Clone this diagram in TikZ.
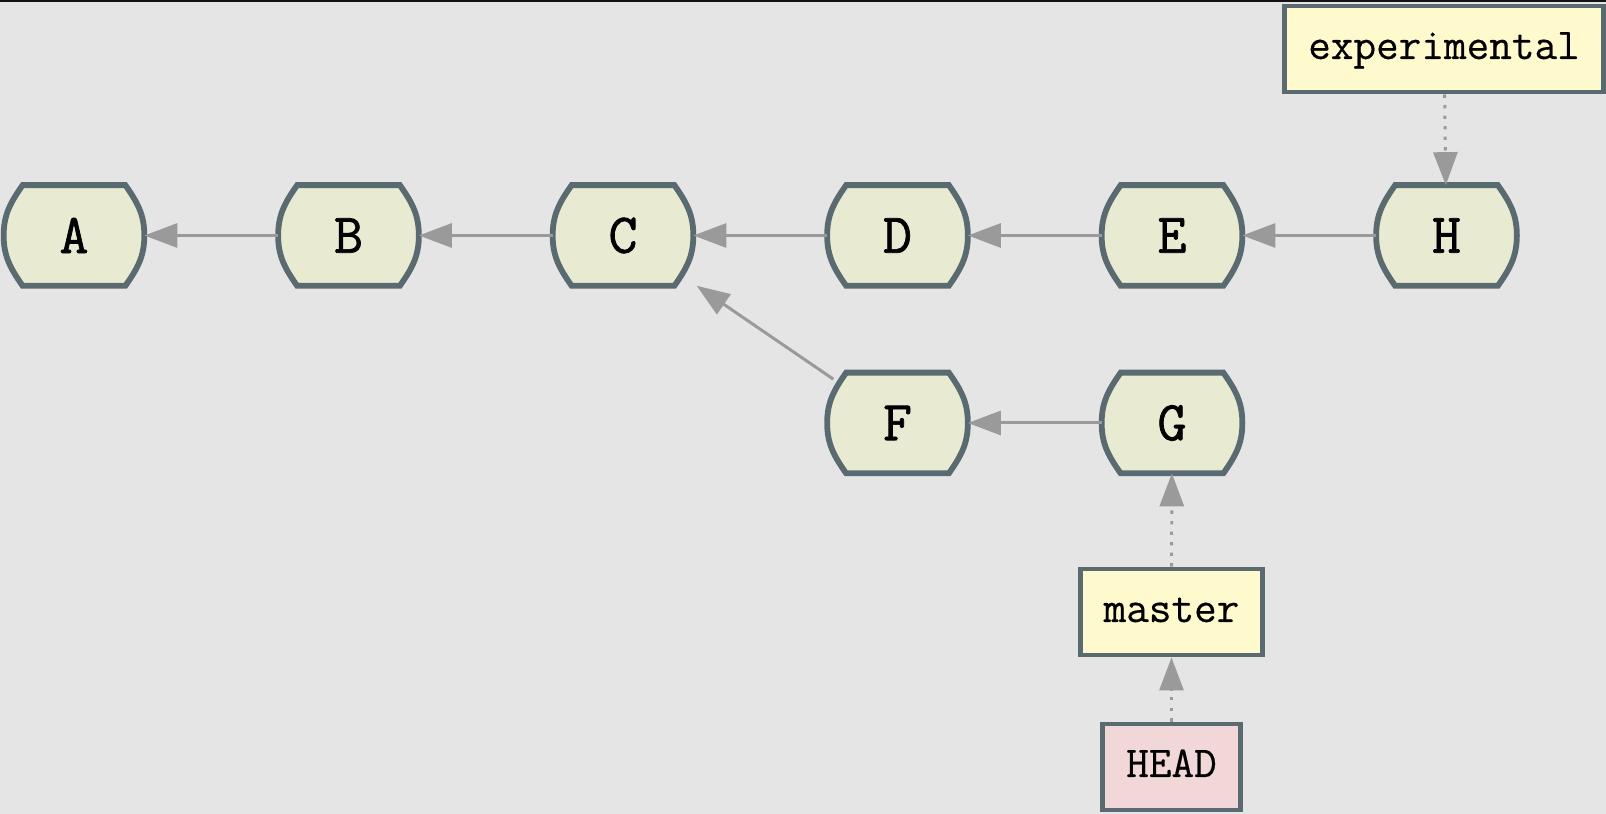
\documentclass[tikz,border=0pt]{standalone}
\usepackage{fontspec}
\newfontfamily\cmtfont[FakeBold=1.2]{Latin Modern Mono}
\newfontfamily\reffont[FakeBold=0.4]{Latin Modern Mono}
\usetikzlibrary{arrows.meta,backgrounds}
\definecolor{bggray}{HTML}{E5E5E5}
\definecolor{edgeclr}{HTML}{596B71}
\definecolor{cmtfill}{HTML}{E8EAD1}
\definecolor{brfill}{HTML}{FFFACD}
\definecolor{headfill}{HTML}{F2D7D9}
\definecolor{arrclr}{HTML}{9A9A9A}
\begin{document}
\begin{tikzpicture}[lbl/.style={draw=edgeclr, line width=2.8pt, inner xsep=0.47cm, minimum height=1.72cm, text height=0.55cm, text depth=0.15cm, font=\reffont\fontsize{25}{27}\selectfont},
par/.style={arrclr, line width=1.7pt, -{Triangle[length=0.66cm, width=0.48cm]}},
ref/.style={par, dash pattern=on 1.9pt off 4.1pt}]
\tikzstyle{cmt}=[rectangle, inner sep=0pt, minimum width=2.8cm, minimum height=2cm, font=\cmtfont\fontsize{32}{34}\selectfont]
\useasboundingbox (0,0) rectangle (32.12,16.28);
\node[cmt] (A) at (1.48,11.57){A};
\node[cmt] (B) at (6.97,11.57){B};
\node[cmt] (C) at (12.46,11.57){C};
\node[cmt] (D) at (17.95,11.57){D};
\node[cmt] (E) at (23.44,11.57){E};
\node[cmt] (H) at (28.93,11.57){H};
\node[cmt] (F) at (17.95,7.82){F};
\node[cmt] (G) at (23.44,7.82){G};
\node[lbl, fill=brfill] (exp) at (28.88,15.3){experimental};
\node[lbl, fill=brfill] (master) at (23.43,4.04){master};
\node[lbl, fill=headfill] (head) at (23.43,0.94){HEAD};
\begin{scope}[on background layer]
\fill[bggray] (0,0) rectangle (32.12,16.28);
\fill[black!93] (0,16.24) rectangle (32.12,16.28);
% commit outline: flat top and bottom, bulging sides
\foreach \n in {A,B,C,D,E,H,F,G}{\draw[edgeclr, line width=3.3pt, fill=cmtfill] ([xshift=0.38cm]\n.north west) -- ([xshift=-0.38cm]\n.north east) to[out=-55,in=90] (\n.east) to[out=-90,in=55] ([xshift=-0.38cm]\n.south east) -- ([xshift=0.38cm]\n.south west) to[out=125,in=-90] (\n.west) to[out=90,in=-125] cycle;}
\end{scope}
\foreach \i/\j in {B/A,C/B,D/C,E/D,H/E,G/F}{\draw[par] (\i) -- (\j);}
\draw[par, shorten <=-0.15cm, shorten >=0.08cm] (F) -- (C);
\foreach \i/\j in {exp/H,master/G,head/master}{\draw[ref] (\i) -- (\j);}
\end{tikzpicture}
\end{document}
